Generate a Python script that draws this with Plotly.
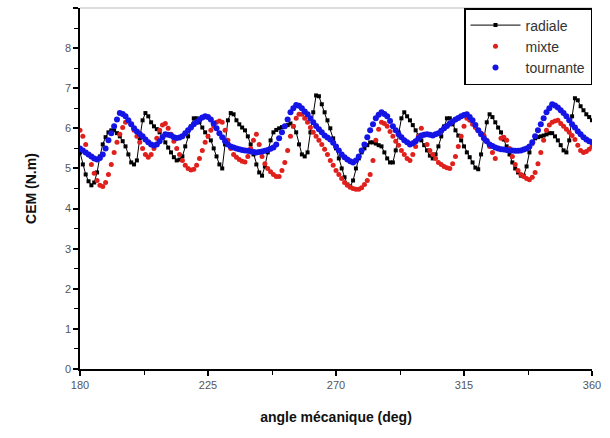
import plotly.graph_objects as go

angle = list(range(180, 361, 1))

radiale = [
    5.40, 5.10, 4.85, 4.68, 4.58, 4.65, 4.90, 5.30, 5.60, 5.78,
    5.90, 5.95, 5.95, 5.88, 5.80, 5.68, 5.55, 5.35, 5.15, 5.10,
    5.20, 5.75, 6.20, 6.38, 6.30, 6.15, 6.05, 5.98, 5.90, 5.78,
    5.65, 5.52, 5.40, 5.28, 5.20, 5.22, 5.30, 5.55, 5.80, 6.05,
    6.25, 6.25, 6.15, 6.02, 5.90, 5.80, 5.70, 5.50, 5.30, 5.10,
    5.00, 5.60, 6.20, 6.38, 6.35, 6.20, 6.10, 6.02, 5.95, 5.80,
    5.60, 5.35, 5.10, 4.90, 4.82, 5.05, 5.40, 5.70, 5.90, 5.96,
    6.00, 6.03, 6.05, 6.08, 6.12, 6.05, 5.90, 5.60, 5.35, 5.30,
    5.40, 5.90, 6.40, 6.82, 6.80, 6.60, 6.40, 6.20, 6.00, 5.75,
    5.50, 5.25, 5.00, 4.78, 4.60, 4.55, 4.70, 5.00, 5.25, 5.40,
    5.50, 5.58, 5.65, 5.65, 5.62, 5.58, 5.55, 5.40, 5.25, 5.15,
    5.15, 5.45, 5.90, 6.25, 6.40, 6.30, 6.20, 6.08, 5.95, 5.82,
    5.70, 5.58, 5.45, 5.32, 5.25, 5.35, 5.55, 5.80, 6.05, 6.25,
    6.25, 6.10, 5.95, 5.82, 5.70, 5.55, 5.40, 5.28, 5.15, 5.02,
    4.98, 5.35, 5.80, 6.15, 6.35, 6.28, 6.15, 6.02, 5.90, 5.72,
    5.55, 5.35, 5.15, 5.00, 4.90, 4.82, 4.82, 5.05, 5.40, 5.62,
    5.75, 5.78, 5.80, 5.82, 5.85, 5.88, 5.88, 5.80, 5.70, 5.58,
    5.45, 5.40, 5.70, 6.30, 6.75, 6.70, 6.55, 6.45, 6.35, 6.28,
    6.20]

mixte = [
    5.95, 5.80, 5.60, 5.35, 5.10, 4.88, 4.70, 4.58, 4.55, 4.65,
    4.85, 5.10, 5.40, 5.65, 5.85, 6.02, 6.15, 6.18, 6.10, 5.95,
    5.80, 5.65, 5.50, 5.35, 5.28, 5.35, 5.50, 5.75, 5.95, 6.08,
    6.12, 6.00, 5.85, 5.68, 5.50, 5.35, 5.20, 5.08, 5.00, 4.96,
    4.98, 5.08, 5.25, 5.45, 5.65, 5.80, 5.95, 6.05, 6.15, 6.18,
    6.15, 5.95, 5.70, 5.50, 5.35, 5.28, 5.22, 5.18, 5.16, 5.30,
    5.50, 5.70, 5.85, 5.60, 5.30, 5.12, 5.00, 4.92, 4.85, 4.80,
    4.80, 4.95, 5.15, 5.45, 5.80, 6.05, 6.25, 6.35, 6.35, 6.25,
    6.15, 6.02, 5.90, 5.80, 5.70, 5.60, 5.48, 5.35, 5.20, 5.08,
    4.95, 4.85, 4.75, 4.65, 4.58, 4.53, 4.50, 4.48, 4.48, 4.52,
    4.60, 4.70, 4.85, 5.20, 5.70, 5.98, 6.15, 6.12, 6.05, 5.92,
    5.80, 5.68, 5.58, 5.45, 5.35, 5.25, 5.20, 5.35, 5.55, 5.80,
    6.00, 5.85, 5.60, 5.45, 5.35, 5.25, 5.15, 5.10, 5.05, 5.02,
    5.00, 5.12, 5.30, 5.55, 5.80, 6.05, 6.25, 6.20, 6.10, 6.02,
    5.95, 5.88, 5.82, 5.70, 5.55, 5.40, 5.25, 5.50, 5.75, 5.78,
    5.70, 5.50, 5.30, 5.10, 4.95, 4.85, 4.80, 4.75, 4.72, 4.78,
    4.90, 5.12, 5.40, 5.70, 5.95, 6.08, 6.15, 6.18, 6.20, 6.12,
    6.05, 5.98, 5.90, 5.82, 5.72, 5.58, 5.45, 5.40, 5.42, 5.48,
    5.55]

tournante = [
    5.50, 5.45, 5.40, 5.35, 5.30, 5.25, 5.22, 5.26, 5.35, 5.50,
    5.70, 5.88, 6.05, 6.22, 6.38, 6.36, 6.30, 6.20, 6.10, 6.00,
    5.92, 5.86, 5.80, 5.72, 5.65, 5.60, 5.57, 5.60, 5.68, 5.78,
    5.85, 5.84, 5.82, 5.78, 5.76, 5.77, 5.80, 5.88, 5.95, 6.02,
    6.10, 6.16, 6.22, 6.27, 6.30, 6.28, 6.22, 6.12, 6.00, 5.88,
    5.78, 5.68, 5.60, 5.55, 5.52, 5.50, 5.48, 5.46, 5.45, 5.44,
    5.42, 5.41, 5.40, 5.41, 5.42, 5.44, 5.46, 5.49, 5.52, 5.60,
    5.75, 5.90, 6.05, 6.22, 6.40, 6.50, 6.58, 6.56, 6.50, 6.42,
    6.35, 6.25, 6.15, 6.06, 5.98, 5.90, 5.82, 5.77, 5.72, 5.64,
    5.55, 5.45, 5.35, 5.28, 5.22, 5.18, 5.15, 5.20, 5.30, 5.45,
    5.60, 5.78, 5.95, 6.10, 6.25, 6.34, 6.40, 6.36, 6.30, 6.18,
    6.05, 5.95, 5.85, 5.78, 5.70, 5.65, 5.60, 5.63, 5.68, 5.75,
    5.82, 5.84, 5.85, 5.84, 5.82, 5.85, 5.88, 5.94, 6.00, 6.06,
    6.12, 6.17, 6.22, 6.26, 6.30, 6.33, 6.35, 6.28, 6.20, 6.08,
    5.95, 5.85, 5.75, 5.68, 5.60, 5.56, 5.52, 5.50, 5.48, 5.47,
    5.46, 5.45, 5.45, 5.44, 5.44, 5.45, 5.47, 5.50, 5.55, 5.65,
    5.80, 5.95, 6.10, 6.25, 6.40, 6.50, 6.60, 6.57, 6.52, 6.45,
    6.38, 6.30, 6.20, 6.10, 6.02, 5.93, 5.85, 5.78, 5.72, 5.68,
    5.65]

assert len(radiale) == len(angle) == len(mixte) == len(tournante)

x_ticks = [180, 225, 270, 315, 360]
y_ticks = [0, 1, 2, 3, 4, 5, 6, 7, 8, 9]
y_labels = ["0", "1", "2", "3", "4", "5", "6", "7", "8", ""]

fig = go.Figure()
fig.add_trace(go.Scatter(
    x=angle, y=radiale, name="radiale", mode="lines+markers",
    line=dict(color="black", width=1),
    marker=dict(color="black", size=4, symbol="square")))
fig.add_trace(go.Scatter(
    x=angle, y=mixte, name="mixte", mode="markers",
    marker=dict(color="#e0201c", size=5, symbol="circle")))
fig.add_trace(go.Scatter(
    x=angle, y=tournante, name="tournante", mode="markers",
    marker=dict(color="#1414e6", size=6, symbol="circle")))

fig.update_layout(
    width=610, height=438,
    margin=dict(l=80, r=18, t=8, b=69, autoexpand=False),
    paper_bgcolor="white", plot_bgcolor="white",
    font=dict(family="Liberation Sans, Arial, sans-serif", size=11, color="#555"),
    showlegend=True,
    legend=dict(x=1, y=1, xanchor="right", yanchor="top",
                bordercolor="black", borderwidth=1.5, bgcolor="white",
                font=dict(size=14, color="#333"),
                tracegroupgap=0, itemwidth=50),
    shapes=[dict(type="line", xref="paper", yref="paper", x0=0, x1=1, y0=1, y1=1,
                 line=dict(color="#bbbbbb", width=1))],
)
fig.update_xaxes(
    range=[180, 360], tickmode="array", tickvals=x_ticks, automargin=False,
    showgrid=False, zeroline=False, showline=True, linecolor="black", linewidth=1.5,
    ticks="outside", ticklen=5, tickwidth=1.5, tickcolor="black",
    minor=dict(tickmode="linear", tick0=180, dtick=22.5, ticks="outside",
               ticklen=4, tickcolor="black", tickwidth=1),
    title=dict(text="<b>angle mécanique (deg)</b>", standoff=22,
               font=dict(size=14, color="#111")),
)
fig.update_yaxes(
    range=[0, 9], tickmode="array", tickvals=y_ticks, ticktext=y_labels,
    automargin=False,
    showgrid=False, zeroline=False, showline=True, linecolor="black", linewidth=1.5,
    ticks="outside", ticklen=5, tickwidth=1.5, tickcolor="black",
    minor=dict(tickmode="linear", tick0=0, dtick=0.5, ticks="outside",
               ticklen=4, tickcolor="black", tickwidth=1),
    title=dict(text="<b>CEM (N.m)</b>", standoff=25,
               font=dict(size=14, color="#111")),
)

fig.write_html("out.html", config={"displayModeBar": False},
               post_script="document.body.style.margin='0';document.body.style.padding='0';")
